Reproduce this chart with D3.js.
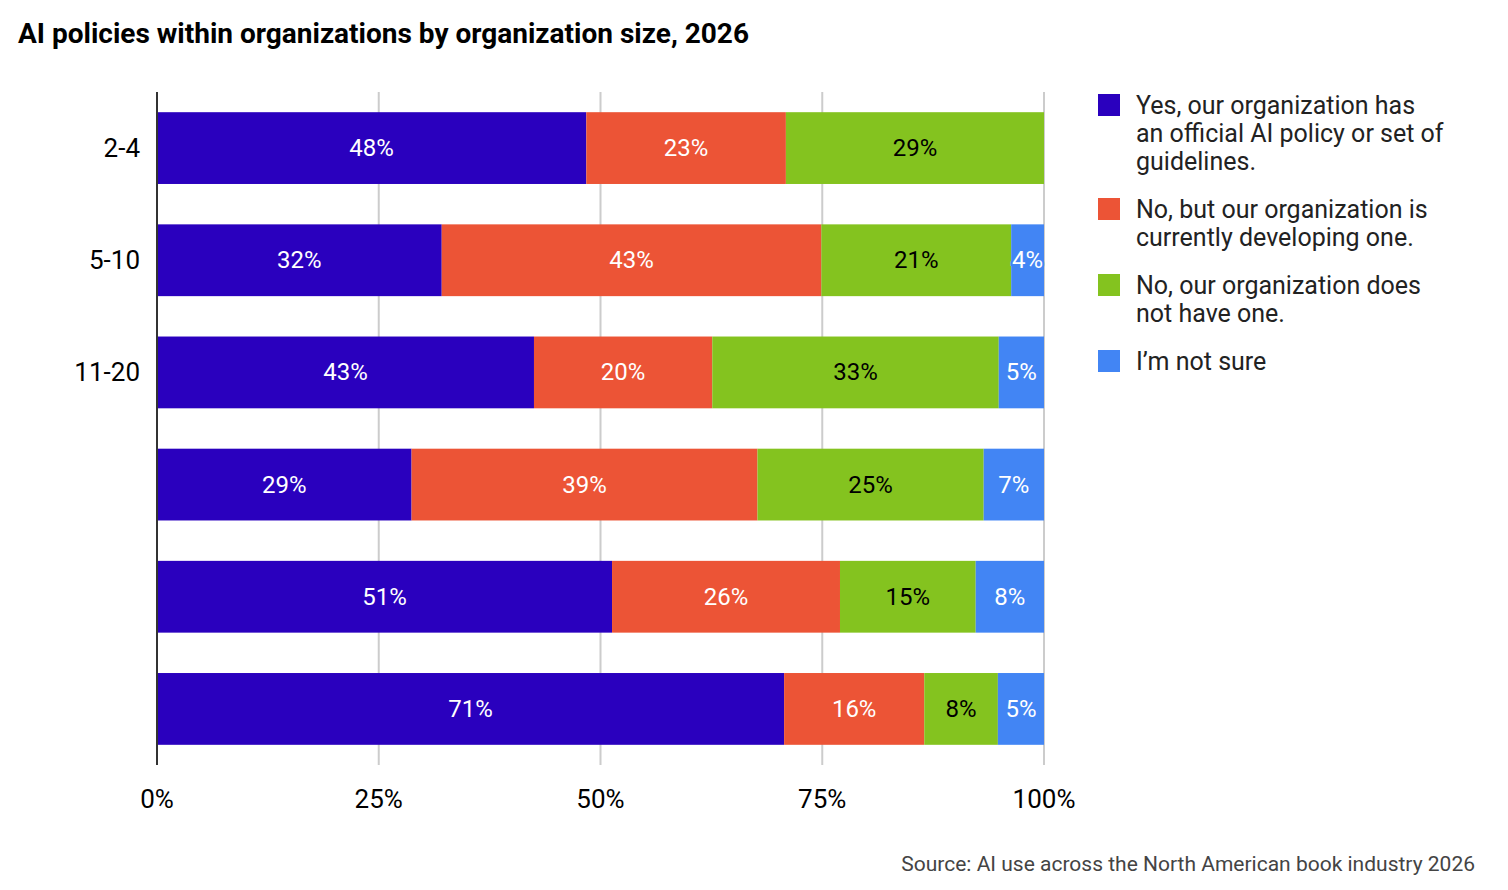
<!DOCTYPE html>
<html><head><meta charset="utf-8">
<script src="https://cdn.jsdelivr.net/npm/d3@7"></script>
<style>body{margin:0;background:#fff;font-family:Roboto,Arial,sans-serif}</style>
</head><body><svg id="c" width="1508" height="890"></svg>
<script>
let categories = ["2-4", "5-10", "11-20", "", "", ""];
let seriesNames = [
  ["Yes, our organization has", "an official AI policy or set of", "guidelines."],
  ["No, but our organization is", "currently developing one."],
  ["No, our organization does", "not have one."],
  ["I\u2019m not sure"]
];
let colors = ["#2a00be", "#ec5436", "#84c31f", "#4285f4"];
let labelColors = ["#fff", "#fff", "#000", "#fff"];
let values = [
  [48.4, 22.5, 29.1, 0],
  [32.1, 42.8, 21.4, 3.7],
  [42.5, 20.1, 32.3, 5.1],
  [28.7, 39.0, 25.5, 6.8],
  [51.3, 25.7, 15.3, 7.7],
  [70.7, 15.8, 8.3, 5.2]
];
let labels = [
  ["48%", "23%", "29%", ""],
  ["32%", "43%", "21%", "4%"],
  ["43%", "20%", "33%", "5%"],
  ["29%", "39%", "25%", "7%"],
  ["51%", "26%", "15%", "8%"],
  ["71%", "16%", "8%", "5%"]
];
let ticks = [0, 25, 50, 75, 100];

let svg = d3.select("#c");
let x = d3.scaleLinear().domain([0, 100]).range([157, 1044]);
let y = d3.scaleBand().domain(d3.range(categories.length)).range([92, 765]).paddingInner(0.36).paddingOuter(0.18);

svg.append("text").attr("x", 18).attr("y", 43).attr("font-size", 28).attr("font-weight", "bold")
  .text("AI policies within organizations by organization size, 2026");

//grid
svg.selectAll(".grid").data(ticks.slice(1)).enter().append("line")
  .attr("x1", d => x(d)).attr("x2", d => x(d)).attr("y1", 92).attr("y2", 765)
  .attr("stroke", "#ccc").attr("stroke-width", 2);

svg.selectAll(".tick").data(ticks).enter().append("text")
  .attr("x", d => x(d)).attr("y", 808).attr("text-anchor", "middle").attr("font-size", 26)
  .text(d => d + "%");

values.forEach(function(row, i) {
  let cum = 0;
  row.forEach(function(v, j) {
    if (v <= 0) return;
    let x0 = x(cum), x1 = x(cum + v);
    cum += v;
    svg.append("rect").attr("x", x0).attr("y", y(i)).attr("width", x1 - x0).attr("height", y.bandwidth())
      .attr("fill", colors[j]);
    if (labels[i][j]) {
      svg.append("text").attr("x", (x0 + x1) / 2).attr("y", y(i) + y.bandwidth() / 2 + 8)
        .attr("text-anchor", "middle").attr("font-size", 24).attr("fill", labelColors[j])
        .attr("stroke", j == 3 ? colors[3] : "none").attr("stroke-width", 4).attr("paint-order", "stroke")
        .text(labels[i][j]);
    }
  });
  svg.append("text").attr("x", 140).attr("y", y(i) + y.bandwidth() / 2 + 9)
    .attr("text-anchor", "end").attr("font-size", 26).text(categories[i]);
});

svg.append("line").attr("x1", 157).attr("x2", 157).attr("y1", 92).attr("y2", 765)
  .attr("stroke", "#333").attr("stroke-width", 2);

//legend
let ly = [94, 198, 274, 350];
seriesNames.forEach(function(lines, i) {
  svg.append("rect").attr("x", 1098).attr("y", ly[i]).attr("width", 22).attr("height", 22).attr("fill", colors[i]);
  lines.forEach(function(t, k) {
    svg.append("text").attr("x", 1136).attr("y", ly[i] + 20 + k * 28).attr("font-size", 25).attr("fill", "#222").text(t);
  });
});

svg.append("text").attr("x", 1475).attr("y", 871).attr("text-anchor", "end").attr("font-size", 21).attr("fill", "#444")
  .text("Source: AI use across the North American book industry 2026");
</script></body></html>
